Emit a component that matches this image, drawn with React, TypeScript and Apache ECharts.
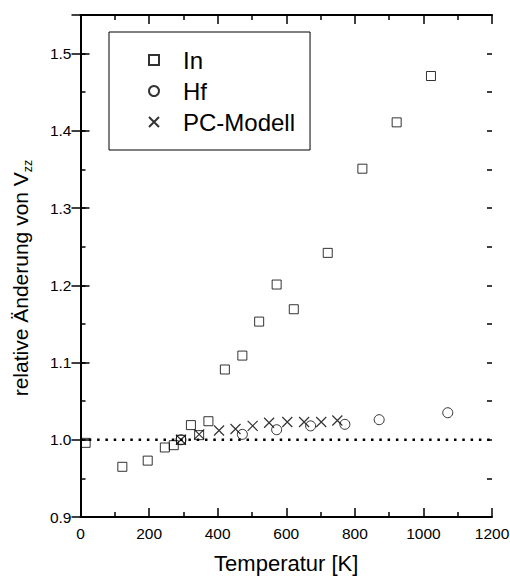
import React, { useEffect, useRef } from "react";
import * as echarts from "echarts";

// In (squares)
const inTemp = [15, 122, 196, 246, 272, 293, 322, 346, 373, 421, 472, 521, 572, 622, 721, 822, 922, 1022];
const inVal = [0.996, 0.965, 0.973, 0.99, 0.993, 1.0, 1.019, 1.006, 1.024, 1.091, 1.109, 1.153, 1.201, 1.169, 1.242, 1.351, 1.411, 1.471];
// Hf (circles)
const hfTemp = [293, 472, 572, 671, 771, 871, 1071];
const hfVal = [1.0, 1.007, 1.013, 1.018, 1.02, 1.026, 1.035];
// PC-Modell (crosses)
const pcTemp = [293, 346, 404, 452, 502, 550, 603, 652, 702, 749];
const pcVal = [1.0, 1.007, 1.012, 1.014, 1.018, 1.022, 1.023, 1.023, 1.023, 1.025];
// reference level (dotted)
const refTemp = [0, 1200];
const refVal = [1.0, 1.0];

const seriesNames = ["In", "Hf", "PC-Modell"];
const xTitle = "Temperatur [K]";
const yTitleMain = "relative Änderung von V";
const yTitleSub = "zz";

const FONT = "'Liberation Sans', Arial, Helvetica, sans-serif";
const SQUARE = "path://M0,0L10,0L10,10L0,10Z";
const CROSS = "path://M0,0L10,10M0,10L10,0";

const zip = (a: number[], b: number[]) => a.map((v, i) => [v, b[i]]);

export default function App() {
  const ref = useRef<HTMLDivElement>(null);
  useEffect(() => {
    if (!ref.current) return;
    const chart = echarts.init(ref.current, null, { renderer: "svg" });
    const axisLine = { show: true, lineStyle: { color: "#000", width: 2 } };
    const tickStyle = { color: "#000", width: 1.5 };
    const xBase = (pos: string, labels: boolean) => ({
      type: "value",
      position: pos,
      min: 0,
      max: 1200,
      interval: 200,
      axisLine,
      axisTick: { show: true, inside: true, length: 9, lineStyle: tickStyle },
      minorTick: { show: true, splitNumber: 2, length: 5, lineStyle: tickStyle },
      splitLine: { show: false },
      minorSplitLine: { show: false },
      axisLabel: {
        show: labels,
        fontSize: 15.5,
        color: "#000",
        fontFamily: FONT,
        margin: 8,
        formatter: (v: number) => String(v),
      },
    });
    const yBase = (pos: string, major: boolean, labels: boolean) => ({
      type: "value",
      position: pos,
      min: 0.9,
      max: 1.55,
      interval: major ? 0.1 : 0.05,
      axisLine: major ? axisLine : { show: false },
      axisTick: { show: true, inside: true, length: major ? 9 : 5, lineStyle: tickStyle },
      splitLine: { show: false },
      axisLabel: {
        show: labels,
        fontSize: 15.5,
        color: "#000",
        fontFamily: FONT,
        margin: 9,
        formatter: (v: number) => (Math.abs(v * 10 - Math.round(v * 10)) < 1e-6 ? v.toFixed(1) : ""),
      },
    });
    const sym = { color: "transparent", borderColor: "#000", borderWidth: 1 };
    chart.setOption({
      animation: false,
      grid: { left: 80.5, right: 18, top: 15, bottom: 62, outerBoundsMode: "none" },
      legend: {
        data: [
          { name: seriesNames[0], icon: SQUARE },
          { name: seriesNames[1] },
          { name: seriesNames[2] },
        ],
        orient: "vertical",
        left: 109,
        top: 32,
        padding: [16, 15, 16, 39],
        borderColor: "#000",
        borderWidth: 1,
        itemWidth: 10,
        itemHeight: 10,
        itemGap: 7,
        textStyle: { fontSize: 24, color: "#000", fontFamily: FONT, padding: [0, 0, 0, 19] },
      },
      xAxis: [
        {
          ...xBase("bottom", true),
          name: xTitle,
          nameLocation: "middle",
          nameGap: 35,
          nameTextStyle: { fontSize: 22, color: "#000", fontFamily: FONT },
        },
        xBase("top", false),
      ],
      yAxis: [
        {
          ...yBase("left", true, true),
          name: `{a|${yTitleMain}}{s|${yTitleSub}}`,
          nameLocation: "middle",
          nameGap: 46,
          nameTextStyle: {
            color: "#000",
            fontFamily: FONT,
            rich: {
              a: { fontSize: 21, lineHeight: 28, verticalAlign: "middle", color: "#000", fontFamily: FONT },
              s: {
                fontSize: 12.5,
                lineHeight: 28,
                verticalAlign: "bottom",
                color: "#000",
                fontFamily: FONT,
                padding: [0, 24, 0, 0],
              },
            },
          },
        },
        yBase("right", true, false),
        yBase("left", false, false),
        yBase("right", false, false),
      ],
      series: [
        {
          name: "ref",
          type: "line",
          data: zip(refTemp, refVal),
          symbol: "none",
          silent: true,
          lineStyle: { color: "#000", width: 2.5, type: [2.5, 5.8] },
          z: 1,
        },
        {
          name: "In",
          type: "scatter",
          symbol: "rect",
          symbolSize: 9,
          data: zip(inTemp, inVal),
          itemStyle: sym,
          z: 3,
        },
        {
          name: "Hf",
          type: "scatter",
          symbol: "circle",
          symbolSize: 10,
          data: zip(hfTemp, hfVal),
          itemStyle: sym,
          z: 3,
        },
        {
          name: "PC-Modell",
          type: "scatter",
          symbol: CROSS,
          symbolSize: 10,
          data: zip(pcTemp, pcVal),
          itemStyle: { ...sym, borderWidth: 1.2 },
          z: 3,
        },
      ],
    });
    return () => chart.dispose();
  }, []);
  return (
    <div
      ref={ref}
      style={{ position: "absolute", left: 0, top: 0, width: 510, height: 579, background: "#fff" }}
    />
  );
}
